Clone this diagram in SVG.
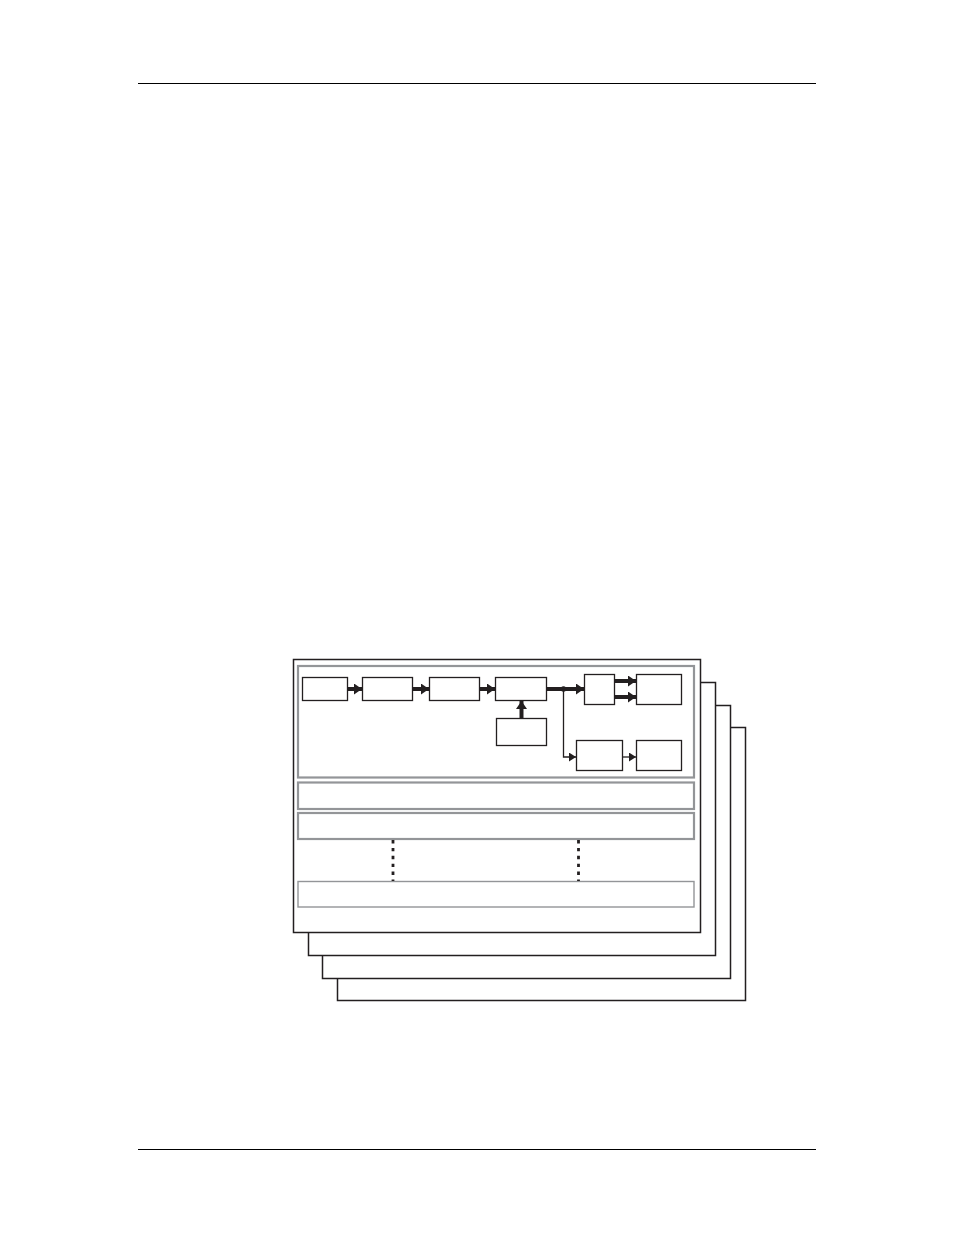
<svg xmlns="http://www.w3.org/2000/svg" width="954" height="1235" viewBox="0 0 954 1235">
<style>
.page{fill:#fff;stroke:#231f20;stroke-width:1.5}
.box{fill:#fff;stroke:#231f20;stroke-width:1.3}
.gray{fill:none;stroke:#939598;stroke-width:2.2}
.gray2{fill:none;stroke:#939598;stroke-width:1.4}
.rule{stroke:#000;stroke-width:1.2}
.thick{stroke:#231f20;stroke-width:4;fill:none}
.thin{stroke:#231f20;stroke-width:1.3;fill:none}
.dot{stroke:#231f20;stroke-width:2.8;stroke-dasharray:3.4,4.5;fill:none}
</style>
<defs>
<marker id="ah" markerUnits="userSpaceOnUse" viewBox="0 0 8 11" refX="8" refY="5.5" markerWidth="8" markerHeight="11" orient="auto"><path d="M0,0 L8,5.5 L0,11 Z" fill="#231f20"/></marker>
<marker id="ahs" markerUnits="userSpaceOnUse" viewBox="0 0 7 9" refX="7" refY="4.5" markerWidth="7" markerHeight="9" orient="auto"><path d="M0,0 L7,4.5 L0,9 Z" fill="#231f20"/></marker>
</defs>
<rect width="954" height="1235" fill="#fff"/>
<line class="rule" x1="138" y1="83.5" x2="816" y2="83.5"/>
<line class="rule" x1="138" y1="1149.5" x2="816" y2="1149.5"/>
<g id="panel4"><rect class="page" x="337.5" y="727.5" width="408" height="273"/></g>
<g id="panel3"><rect class="page" x="322.5" y="705.5" width="408" height="273"/></g>
<g id="panel2"><rect class="page" x="308.5" y="682.5" width="407" height="273"/></g>
<g id="panel1"><rect class="page" x="293.5" y="659.5" width="407" height="273"/></g>
<g id="section1"><rect class="gray" x="298" y="666" width="396" height="111.5"/></g>
<g id="bar1"><rect class="gray" x="298" y="782.5" width="396" height="26.5"/></g>
<g id="bar2"><rect class="gray" x="298" y="813" width="396" height="26"/></g>
<g id="bar3"><rect class="gray2" x="298" y="881.5" width="396" height="25.5"/></g>
<g id="n1"><rect class="box" x="302.5" y="677.5" width="45" height="23"/></g>
<g id="n2"><rect class="box" x="362.5" y="677.5" width="50" height="23"/></g>
<g id="n3"><rect class="box" x="429.5" y="677.5" width="50" height="23"/></g>
<g id="n4"><rect class="box" x="495.5" y="677.5" width="51" height="23"/></g>
<g id="n5"><rect class="box" x="584.5" y="674.5" width="30" height="30"/></g>
<g id="n6"><rect class="box" x="636.5" y="674.5" width="45" height="30"/></g>
<g id="n7"><rect class="box" x="496.5" y="718.5" width="50" height="27"/></g>
<g id="n8"><rect class="box" x="576.5" y="740.5" width="46" height="30"/></g>
<g id="n9"><rect class="box" x="636.5" y="740.5" width="45" height="30"/></g>
<g id="connectors">
<line class="thick" x1="347.5" y1="689" x2="362" y2="689" marker-end="url(#ah)"/>
<line class="thick" x1="412.5" y1="689" x2="429" y2="689" marker-end="url(#ah)"/>
<line class="thick" x1="479.5" y1="689" x2="495" y2="689" marker-end="url(#ah)"/>
<line class="thick" x1="546.5" y1="689" x2="584" y2="689" marker-end="url(#ah)"/>
<circle cx="563.5" cy="689" r="2.8" fill="#231f20"/>
<line class="thick" x1="521.5" y1="718" x2="521.5" y2="701" marker-end="url(#ah)"/>
<line class="thick" x1="614.5" y1="681" x2="636" y2="681" marker-end="url(#ah)"/>
<line class="thick" x1="614.5" y1="697" x2="636" y2="697" marker-end="url(#ah)"/>
<polyline class="thin" points="563.5,689 563.5,757 576,757" marker-end="url(#ahs)"/>
<line class="thin" x1="622.5" y1="757" x2="636" y2="757" marker-end="url(#ahs)"/>
<line class="dot" x1="393" y1="840" x2="393" y2="881"/>
<line class="dot" x1="578.5" y1="840" x2="578.5" y2="881"/>
</g>
</svg>
